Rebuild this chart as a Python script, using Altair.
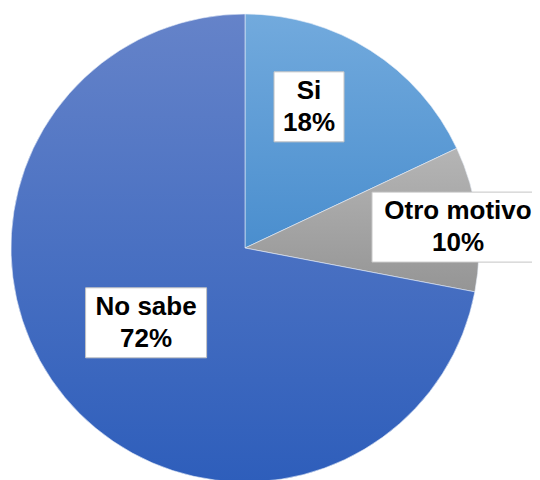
import math
import altair as alt
import pandas as pd

# --- data ---
categories = ["Si", "Otro motivo", "No sabe"]
values = [18, 10, 72]

df = pd.DataFrame({"cat": categories, "value": values, "order": list(range(len(categories)))})

# --- style / layout ---
CX, CY, R = 237, 240, 234
W, H = 524, 472
LINE_H = 31.5

gradients = {
    "Si": ("#72aadd", "#4a8ece"),
    "Otro motivo": ("#b5b5b5", "#959595"),
    "No sabe": ("#6583c9", "#2e5ebb"),
}
label_r = {"Si": 155, "Otro motivo": 214, "No sabe": 124}
label_dtheta = {"Si": -8.0, "Otro motivo": 1.6, "No sabe": 2.5}
label_halfw = {"Si": 35, "Otro motivo": 86, "No sabe": 60.5}
BOX_HALF_H = 35


def cat_expr(d):
    expr = str(d[categories[-1]])
    for c in reversed(categories[:-1]):
        expr = f"datum.cat == '{c}' ? {d[c]} : ({expr})"
    return expr


base = alt.Chart(df).transform_window(
    end="sum(value)", sort=[alt.SortField("order")], frame=[None, 0]
).transform_calculate(
    start="datum.end - datum.value",
    mid="(datum.start + datum.end) / 2",
)

theta_scale = alt.Scale(domain=[0, 100], range=[0, 2 * math.pi])

layers = []
for c in categories:
    top, bottom = gradients[c]
    grad = alt.Gradient(
        gradient="linear",
        stops=[alt.GradientStop(color=top, offset=0), alt.GradientStop(color=bottom, offset=1)],
        x1=0, x2=0, y1=0, y2=1,
    )
    layers.append(
        base.transform_filter(alt.datum.cat == c)
        .mark_arc(radius=R, fill=grad, stroke="#e8eef8", strokeWidth=0.6)
        .encode(
            theta=alt.Theta("start:Q", scale=theta_scale, stack=None),
            theta2="end:Q",
            x=alt.value(CX),
            y=alt.value(CY),
        )
    )

lab = base.transform_calculate(
    lr=cat_expr(label_r),
    ldt=cat_expr(label_dtheta),
    hw=cat_expr(label_halfw),
).transform_calculate(
    ang="datum.mid / 100 * 2 * PI + datum.ldt * PI / 180",
).transform_calculate(
    lx=f"{CX} + datum.lr * sin(datum.ang)",
    ly=f"{CY} - datum.lr * cos(datum.ang)",
    label="datum.cat + '\\n' + datum.value + '%'",
).transform_calculate(
    bx1="datum.lx - datum.hw",
    bx2="datum.lx + datum.hw",
    by1=f"datum.ly - {BOX_HALF_H}",
    by2=f"datum.ly + {BOX_HALF_H}",
)

boxes = lab.mark_rect(fill="white", stroke="#c4c4c4", strokeWidth=1).encode(
    x=alt.X("bx1:Q", scale=None),
    x2="bx2:Q",
    y=alt.Y("by1:Q", scale=None),
    y2="by2:Q",
)

texts = lab.mark_text(
    font="Liberation Sans",
    fontWeight="bold",
    fontSize=26,
    lineBreak="\n",
    lineHeight=LINE_H,
    baseline="middle",
    align="center",
    color="black",
    dy=-LINE_H / 2,
).encode(
    x=alt.X("lx:Q", scale=None),
    y=alt.Y("ly:Q", scale=None),
    text="label:N",
)

chart = alt.layer(*layers, boxes, texts).properties(
    width=W,
    height=H,
    padding=0,
    autosize=alt.AutoSizeParams(type="none"),
).configure_view(stroke=None)

chart.save("out.html", embed_options={"renderer": "svg", "actions": False})
